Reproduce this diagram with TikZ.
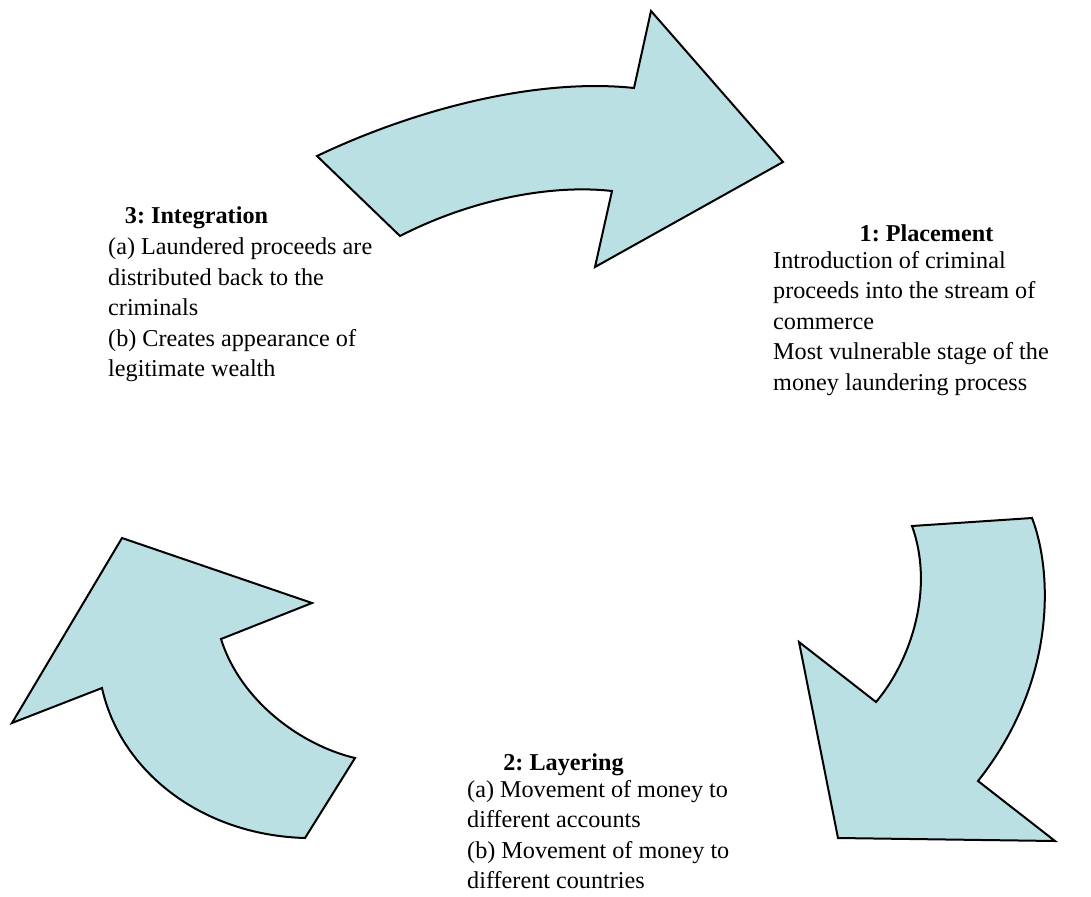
\documentclass[tikz,border=0pt]{standalone}
\usepackage{fontspec}
\setmainfont{Liberation Serif}
\usepackage{xcolor}
\definecolor{arrowblue}{RGB}{187,224,227}
\tikzstyle{bigarrow} = [draw=black, 
line width=2pt, 
line join=miter, 
fill=arrowblue]
\tikzstyle{stagehead} = [inner sep=0pt, 
anchor=base, 
font=\bfseries\fontsize{24.2}{30.5}\selectfont]
\tikzstyle{stagetext} = [inner sep=0pt, 
anchor=north west, 
align=left, 
font=\fontsize{24.2}{30.5}\selectfont]
\frenchspacing

\begin{document}
\begin{tikzpicture}[x=1pt, y=-1pt]
	\useasboundingbox (0,0) rectangle (1091,896);

	% top arrow (integration -> placement)
	\draw [bigarrow] (317,156) .. controls (420,107) and (540,78) .. (634,88)
		-- (651,11) -- (783,162) -- (595,267) -- (612,191)
		.. controls (550,184) and (470,200) .. (400,236) -- cycle;

	% right arrow (placement -> layering)
	\draw [bigarrow] (912,526) -- (1032,518)
		.. controls (1052,570) and (1058,680) .. (978,781)
		-- (1055,841) -- (838,838) -- (799,642) -- (876,702)
		.. controls (910,662) and (935,590) .. cycle;

	% left arrow (layering -> integration)
	\draw [bigarrow] (122,538) -- (312,603) -- (221,639)
		.. controls (240,700) and (300,745) .. (355,758)
		-- (305,838)
		.. controls (200,835) and (120,770) .. (102,688)
		-- (12,723) -- cycle;

	\node (head1) [stagehead] at (926.5,241) {1: Placement};
	\node (text1) [stagetext] at (773,251) {Introduction of criminal\\proceeds into the stream of\\commerce\\Most vulnerable stage of the\\money laundering process};

	\node (head2) [stagehead] at (563.5,770) {2: Layering};
	\node (text2) [stagetext] at (467,780) {(a) Movement of money to\\different accounts\\(b) Movement of money to\\different countries};

	\node (head3) [stagehead] at (196.5,223) {3: Integration};
	\node (text3) [stagetext] at (108,238) {(a) Laundered proceeds are\\distributed back to the\\criminals\\(b) Creates appearance of\\legitimate wealth};

%	\draw [bigarrow] (text3) -- (head1);
\end{tikzpicture}
\end{document}
